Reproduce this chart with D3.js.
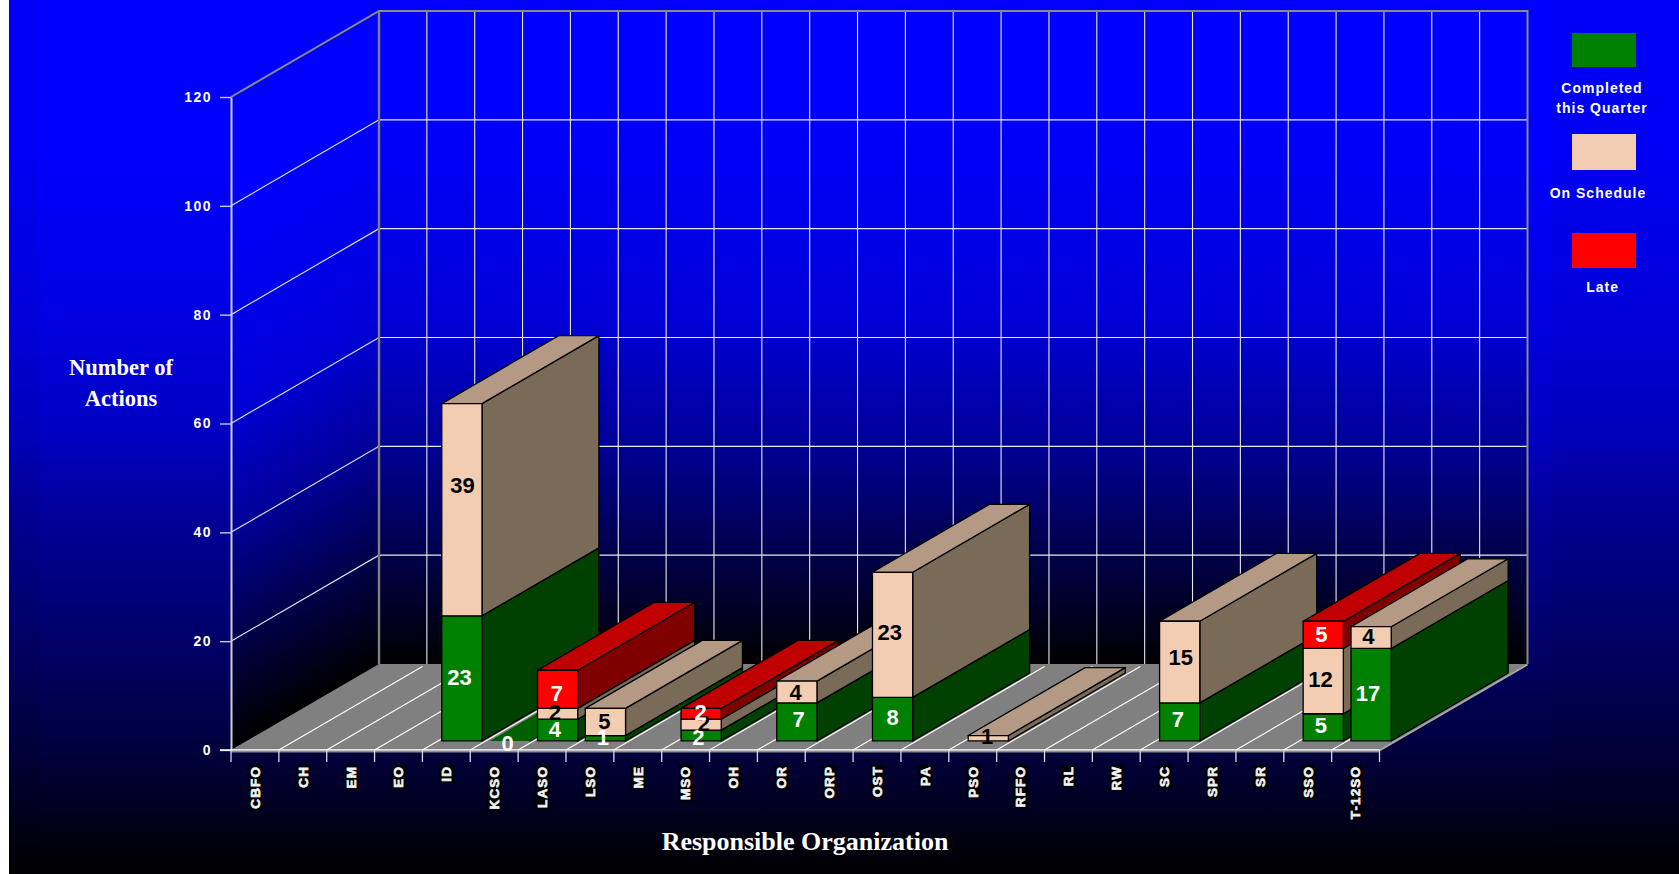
<!DOCTYPE html>
<html><head><meta charset="utf-8">
<script src="https://cdn.jsdelivr.net/npm/d3@7/dist/d3.min.js"></script>
<style>html,body{margin:0;padding:0;background:#fff;overflow:hidden}svg{display:block}</style>
</head><body><svg id="c" width="1679" height="874"></svg>
<script>
const categories = ["CBFO","CH","EM","EO","ID","KCSO","LASO","LSO","ME","MSO","OH","OR","ORP","OST","PA","PSO","RFFO","RL","RW","SC","SPR","SR","SSO","T-12SO"];
const completed  = [null,null,null,null,23,0,4,1,null,2,null,7,null,8,null,null,null,null,null,7,null,null,5,17];
const onSchedule = [null,null,null,null,39,null,2,5,null,2,null,4,null,23,null,1,null,null,null,15,null,null,12,4];
const late       = [null,null,null,null,null,null,7,null,null,2,null,null,null,null,null,null,null,null,null,null,null,null,5,null];
const yTicks = [0,20,40,60,80,100,120];
const legendNames = [["Completed","this Quarter"],["On Schedule"],["Late"]];

// label placement tweaks (px), separate from data: [series][category]
const labelNudge = {
  "0:4":[-2.4,-1.7],"1:4":[0.6,-25],"0:5":[-2,1.7],
  "0:6":[-2.7,-1.4],"1:6":[-2.7,-1.4],"2:6":[-0.7,3.4],
  "0:7":[-2.6,-0.9],"1:7":[-1,-0.6],
  "0:9":[-2.7,1.8],"1:9":[2.7,-2],"2:9":[-0.6,-1.4],
  "0:11":[1.7,-3],"1:11":[-1.2,0],
  "0:13":[0,-2.2],"1:13":[-2.9,-2.4],"1:15":[-1.1,-2.6],
  "0:19":[-1.8,-3],"1:19":[1.1,-5],
  "0:22":[-2.4,-2],"1:22":[-2.8,-2.2],"2:22":[-2,-1.2],
  "0:23":[-3.1,-1.7],"1:23":[-2.8,-1]
};

const series = [
  {values:completed,  front:"#008000", top:"#006000", side:"#004000", text:"#fff"},
  {values:onSchedule, front:"#f3cdb2", top:"#b49a84", side:"#7a6a58", text:"#000"},
  {values:late,       front:"#ff0000", top:"#c00000", side:"#800000", text:"#fff"}
];

const svg = d3.select("#c");
const defs = svg.append("defs");
const X0=231, X1=1379.5, Y0=750, Y1=97, DX=148, DY=-86;
const x = d3.scaleBand().domain(categories).range([X0,X1]);
const y = d3.scaleLinear().domain([0,120]).range([Y0,Y1]);
const P = (px,py,d)=>[px+DX*d, py+DY*d];
const poly = pts=>pts.map(p=>p.join(",")).join(" ");

function grad(id,stops,attrs){
  const g=defs.append("linearGradient").attr("id",id).attr("gradientUnits","userSpaceOnUse");
  Object.entries(attrs).forEach(([k,v])=>g.attr(k,v));
  stops.forEach(s=>g.append("stop").attr("offset",s[0]).attr("stop-color",s[1]));
}
const bgStops=[[0,"#0000ff"],[0.17,"#0000ff"],[0.37,"#0000e0"],[0.5,"#0000c0"],[0.57,"#0000a0"],[0.71,"#000070"],[0.86,"#00003c"],[1,"#000000"]];
const bgStopsOut=[[0,"#0000f4"],[0.17,"#0000f4"],[0.37,"#0000d8"],[0.5,"#0000b8"],[0.57,"#000098"],[0.71,"#00006a"],[0.86,"#000038"],[1,"#000000"]];
const wallStops=[[0,"#0000ff"],[0.14,"#0000ff"],[0.47,"#0000d8"],[0.66,"#000098"],[0.8,"#000058"],[1,"#000000"]];
grad("bgIn",bgStops,{x1:0,x2:0,y1:0,y2:874});
grad("bgOut",bgStopsOut,{x1:0,x2:0,y1:0,y2:874});
grad("wall",wallStops,{x1:0,x2:0,y1:11,y2:664});
grad("wallL",wallStops,{x1:0,x2:0,y1:11,y2:664,
  gradientTransform:`matrix(1,${DY/DX},0,1,0,${-(DY/DX)*(X0+DX)})`});

svg.append("rect").attr("x",9).attr("y",0).attr("width",1670).attr("height",874).attr("fill","url(#bgOut)");
svg.append("rect").attr("x",38).attr("y",0).attr("width",1514).attr("height",874).attr("fill","url(#bgIn)");

// walls
const g = svg.append("g");
g.append("polygon").attr("points",poly([P(X0,y(0),0),P(X0,y(120),0),P(X0,y(120),1),P(X0,y(0),1)])).attr("fill","url(#wallL)");
g.append("polygon").attr("points",poly([P(X0,y(0),1),P(X0,y(120),1),P(X1,y(120),1),P(X1,y(0),1)])).attr("fill","url(#wall)");

// wall gridlines
const gridCol="#e8e8f4";
yTicks.filter(t=>t>0&&t<120).forEach(t=>{
  g.append("polyline").attr("points",poly([P(X0,y(t),0),P(X0,y(t),1),P(X1,y(t),1)])).attr("fill","none").attr("stroke",gridCol).attr("stroke-width",1.1);
});
categories.forEach((c,i)=>{ if(i===0)return;
  const a=P(x(c),y(0),1), b=P(x(c),y(120),1);
  g.append("line").attr("x1",a[0]).attr("y1",a[1]).attr("x2",b[0]).attr("y2",b[1]).attr("stroke",gridCol).attr("stroke-width",1.1);
});
// wall frame
g.append("polyline").attr("points",poly([P(X0,y(120),0),P(X0,y(120),1),P(X1,y(120),1),P(X1,y(0),1)])).attr("fill","none").attr("stroke","#8a8a8a").attr("stroke-width",2);
{const a=P(X0,y(0),1), b=P(X0,y(120),1);
g.append("line").attr("x1",a[0]).attr("y1",a[1]).attr("x2",b[0]).attr("y2",b[1]).attr("stroke","#808080").attr("stroke-width",2.4);}

// floor
g.append("polygon").attr("points",poly([P(X0,y(0),0),P(X0,y(0),1),P(X1,y(0),1),P(X1,y(0),0)])).attr("fill","#808080");
g.append("polyline").attr("points",poly([P(X0,y(0)+1.6,0),P(X1,y(0)+1.6,0)])).attr("fill","none").attr("stroke","#8c8c8c").attr("stroke-width",1.6);
g.append("polyline").attr("points",poly([P(X1,y(0)+0.5,0),P(X1,y(0)+0.5,1)])).attr("fill","none").attr("stroke","#a8a8a8").attr("stroke-width",2);
categories.forEach((c,i)=>{ if(i===0)return;
  const a=P(x(c),y(0),0), b=P(x(c),y(0),0.97);
  g.append("line").attr("x1",a[0]).attr("y1",a[1]).attr("x2",b[0]).attr("y2",b[1]).attr("stroke","#fff").attr("stroke-width",1.1);
});

// axis lines
const yAxis = d3.axisLeft(y).tickValues(yTicks).tickSize(11).tickSizeOuter(0).tickPadding(8).tickFormat(d3.format("d"));
const ga = svg.append("g").attr("transform",`translate(${X0},0)`).call(yAxis);
ga.select(".domain").attr("stroke","#d0d0d0").attr("stroke-width",2);
ga.selectAll(".tick line").attr("stroke","#c8c8e8").attr("stroke-width",1.4);
ga.selectAll(".tick text").attr("fill","#fff").attr("font-family","'Liberation Sans',Arial,sans-serif").attr("font-weight","bold").attr("font-size",14).style("letter-spacing","1.5px");
svg.append("line").attr("x1",220).attr("x2",X1).attr("y1",y(0)).attr("y2",y(0)).attr("stroke","#fff").attr("stroke-width",1.6);

// x ticks and labels
const xTickVals=[...categories.map(c=>x(c)),X1];
svg.append("g").selectAll("line").data(xTickVals).join("line")
  .attr("x1",d=>d).attr("x2",d=>d).attr("y1",y(0)).attr("y2",y(0)+12)
  .attr("stroke","#d8d8e8").attr("stroke-width",1.3);
const lab = svg.append("g");
categories.forEach(c=>{
  const cx=x(c)+x.bandwidth()/2;
  const gg=lab.append("g").attr("transform",`translate(${cx},766) rotate(-90)`);
  const t=gg.append("text").text(c).attr("text-anchor","end").attr("dy","0.36em")
    .attr("fill","#f4f4f4").attr("stroke","#f4f4f4").attr("stroke-width",0.6)
    .attr("font-family","'Liberation Sans',Arial,sans-serif").attr("font-weight","bold").attr("font-size",13.5).style("letter-spacing","1.1px");
  const b=t.node().getBBox();
  gg.insert("rect","text").attr("x",b.x-1).attr("y",-7).attr("width",b.width+2).attr("height",14).attr("fill","#000");
});

// bars
const barInset=0.08, dA=0.105, dB=0.895;
const bars=svg.append("g").attr("stroke","#000").attr("stroke-width",1.3).attr("stroke-linejoin","round");
const labels=[];
categories.forEach((c,i)=>{
  const xl=x(c)+x.bandwidth()*barInset, xr=x(c)+x.bandwidth()*(1-barInset);
  let base=0;
  const segs=series.map((s,si)=>({s,si,v:s.values[i]})).filter(o=>o.v!==null);
  segs.forEach((o,k)=>{
    const lo=base, hi=base+o.v; base=hi;
    const yl=y(lo), yh=y(hi);
    bars.append("polygon").attr("points",poly([P(xr,yl,dA),P(xr,yl,dB),P(xr,yh,dB),P(xr,yh,dA)])).attr("fill",o.s.side);
    if(k===segs.length-1)
      bars.append("polygon").attr("points",poly([P(xl,yh,dA),P(xr,yh,dA),P(xr,yh,dB),P(xl,yh,dB)])).attr("fill",o.s.top).attr("stroke",o.v===0?"none":null);
    if(o.v>0)
      bars.append("polygon").attr("points",poly([P(xl,yl,dA),P(xr,yl,dA),P(xr,yh,dA),P(xl,yh,dA)])).attr("fill",o.s.front);
    const n=labelNudge[o.si+":"+i]||[0,0];
    const m=P((xl+xr)/2,y((lo+hi)/2),dA);
    labels.push({x:m[0]+n[0],y:m[1]+n[1],v:o.v,c:o.s.text});
  });
});
svg.append("g").selectAll("text").data(labels).join("text")
  .attr("x",d=>d.x).attr("y",d=>d.y).attr("dy","0.36em").attr("text-anchor","middle")
  .attr("fill",d=>d.c).attr("font-family","'Liberation Sans',Arial,sans-serif").attr("font-weight","bold").attr("font-size",22)
  .text(d=>d.v);

// titles
const serif="'Liberation Serif','Times New Roman',serif";
[["Number of",121,367,22.5],["Actions",121,398,22.5],["Responsible Organization",805,841,26]].forEach(t=>{
  svg.append("text").text(t[0]).attr("x",t[1]).attr("y",t[2]).attr("dy","0.34em").attr("text-anchor","middle")
    .attr("fill","#fff").attr("font-family",serif).attr("font-weight","bold").attr("font-size",t[3]);
});

// legend
const legY=[[33,67],[134,170],[233,268]];
const legText=[[88,108],[193],[287]];
const legX=[1602,1598,1602.6];
series.forEach((s,i)=>{
  svg.append("rect").attr("x",1572).attr("width",64).attr("y",legY[i][0]).attr("height",legY[i][1]-legY[i][0]).attr("fill",s.front);
  legendNames[i].forEach((n,j)=>{
    svg.append("text").text(n).attr("x",legX[i]).attr("y",legText[i][j]).attr("dy","0.36em").attr("text-anchor","middle")
      .attr("fill","#fff").attr("font-family","'Liberation Sans',Arial,sans-serif").attr("font-weight","bold").attr("font-size",14).style("letter-spacing","1px");
  });
});
</script></body></html>
